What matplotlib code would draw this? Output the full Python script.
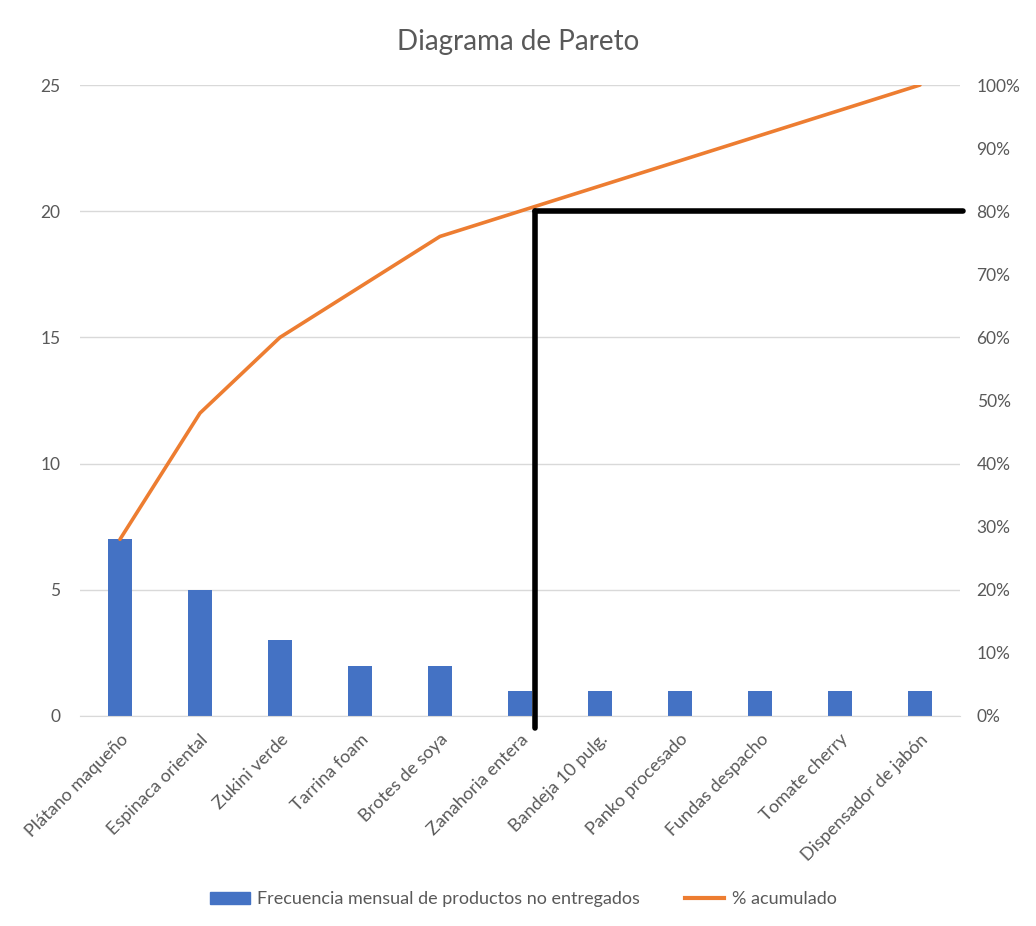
import matplotlib
matplotlib.use("Agg")
import matplotlib.pyplot as plt
from matplotlib.ticker import FuncFormatter
from matplotlib.patches import Patch
from matplotlib.lines import Line2D
import numpy as np

plt.rcParams['font.family'] = ['Lato', 'DejaVu Sans']

categories = ["Plátano maqueño", "Espinaca oriental", "Zukini verde", "Tarrina foam",
              "Brotes de soya", "Zanahoria entera", "Bandeja 10 pulg.", "Panko procesado",
              "Fundas despacho", "Tomate cherry", "Dispensador de jabón"]
frecuencia = [7, 5, 3, 2, 2, 1, 1, 1, 1, 1, 1]
acumulado = [28, 48, 60, 68, 76, 80, 84, 88, 92, 96, 100]

left_ticks = [0, 5, 10, 15, 20, 25]
right_ticks = [0, 10, 20, 30, 40, 50, 60, 70, 80, 90, 100]
corte_pct = 80

blue = "#4472C4"
orange = "#ED7D31"
gray = "#595959"

fig = plt.figure(figsize=(10.36, 9.26), dpi=100)
ax = fig.add_axes([0.0772, 0.2268, 0.8494, 0.6814])
ax2 = ax.twinx()

x = np.arange(len(categories))
ax.bar(x, frecuencia, width=0.31, color=blue, zorder=2)
ax.set_ylim(0, 25)
ax.set_xlim(-0.5, len(categories) - 0.5)
ax.set_yticks(left_ticks)
ax.grid(axis='y', color="#D9D9D9", linewidth=1, zorder=0)
ax.set_axisbelow(True)

ax2.plot(x, acumulado, color=orange, linewidth=2.6, solid_capstyle='round', zorder=3)
ax2.set_ylim(0, 100)
ax2.set_yticks(right_ticks)
ax2.yaxis.set_major_formatter(FuncFormatter(lambda v, p: f"{int(v)}%"))

for a in (ax, ax2):
    for s in a.spines.values():
        s.set_visible(False)
    a.tick_params(length=0, colors=gray, labelsize=12.5)
ax.spines['bottom'].set_visible(True)
ax.spines['bottom'].set_color("#D9D9D9")
ax.tick_params(axis='y', pad=14)
ax2.tick_params(axis='y', pad=12)

ax.set_xticks(x)
ax.set_xticklabels(categories, rotation=45, ha='right', rotation_mode='anchor', fontsize=13, color=gray)
ax.tick_params(axis='x', pad=11)

# 80% cut-off marker
xc = 5.19
ax2.plot([xc, xc], [corte_pct, -1.9], color='black', linewidth=4, solid_capstyle='round', clip_on=False, zorder=4)
ax2.plot([xc, 10.54], [corte_pct, corte_pct], color='black', linewidth=4, solid_capstyle='round', clip_on=False, zorder=4)

fig.text(0.5, 0.955, "Diagrama de Pareto", ha='center', va='center', fontsize=20, color=gray)

handles = [Patch(color=blue, label="Frecuencia mensual de productos no entregados"),
           Line2D([0], [0], color=orange, linewidth=3, label="% acumulado")]
fig.legend(handles=handles, loc='center', bbox_to_anchor=(0.505, 0.029), ncol=2, frameon=False,
           fontsize=13, labelcolor=gray, handlelength=2.2, handletextpad=0.4, columnspacing=2.5)

fig.savefig("out.png", dpi=100, facecolor='white')
